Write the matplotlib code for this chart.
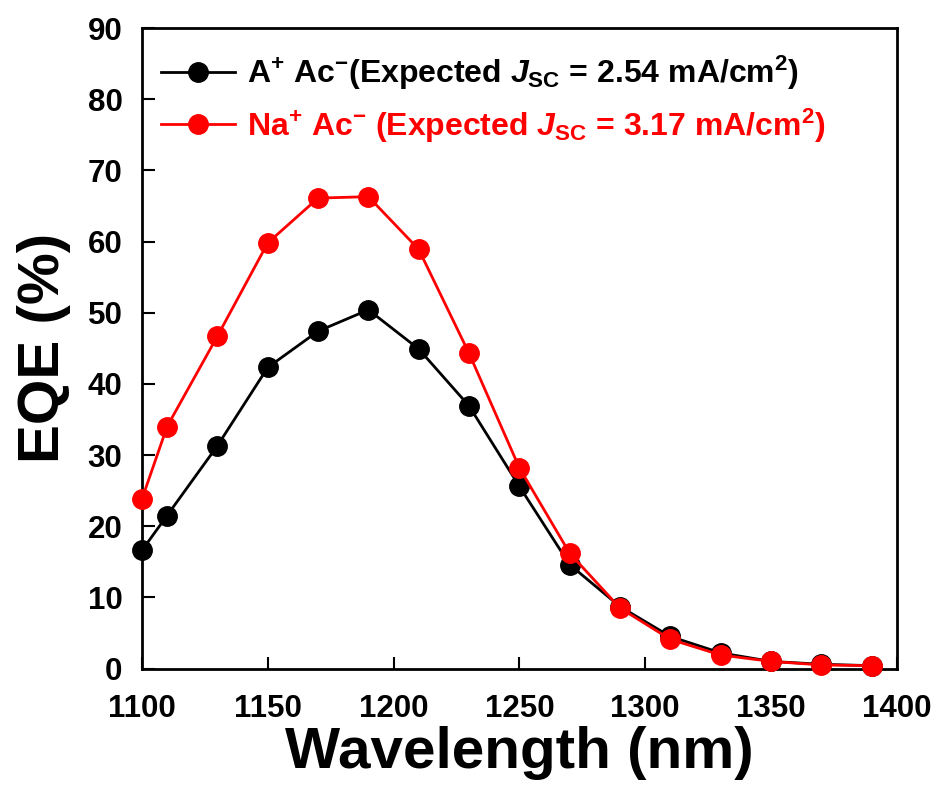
import matplotlib
matplotlib.use("Agg")
import matplotlib.pyplot as plt

plt.rcParams['font.family'] = ['Liberation Sans', 'DejaVu Sans']
plt.rcParams['font.weight'] = 'bold'
plt.rcParams['mathtext.fontset'] = 'custom'
plt.rcParams['mathtext.rm'] = 'Liberation Sans:bold'
plt.rcParams['mathtext.bf'] = 'Liberation Sans:bold'
plt.rcParams['mathtext.it'] = 'Liberation Sans:italic:bold'

wavelength = [1100, 1110, 1130, 1150, 1170, 1190, 1210, 1230, 1250, 1270, 1290, 1310, 1330, 1350, 1370, 1390]
eqe_a = [16.6, 21.5, 31.3, 42.3, 47.4, 50.4, 44.9, 36.9, 25.6, 14.6, 8.7, 4.5, 2.2, 1.0, 0.6, 0.4]
eqe_na = [23.8, 34.0, 46.7, 59.8, 66.1, 66.3, 58.9, 44.3, 28.2, 16.2, 8.5, 4.1, 1.9, 1.0, 0.5, 0.4]

label_a = r"A$^{+}$ Ac$^{\mathrm{-}}$(Expected $J_{\mathrm{SC}}$ = 2.54 mA/cm$^{2}$)"
label_na = r"Na$^{+}$ Ac$^{\mathrm{-}}$ (Expected $J_{\mathrm{SC}}$ = 3.17 mA/cm$^{2}$)"

xticks = [1100, 1150, 1200, 1250, 1300, 1350, 1400]
yticks = [0, 10, 20, 30, 40, 50, 60, 70, 80, 90]

fig = plt.figure(figsize=(9.4, 7.89), dpi=100)
ax = fig.add_axes([0.151, 0.1527, 0.803, 0.8118])

ax.plot(wavelength, eqe_a, color='black', lw=2, marker='o', ms=14, label=label_a,
        clip_on=False, zorder=3)
ax.plot(wavelength, eqe_na, color='#ff0000', lw=2, marker='o', ms=14, label=label_na,
        clip_on=False, zorder=4)

ax.set_xlim(1100, 1400)
ax.set_ylim(0, 90)
ax.set_xticks(xticks)
ax.set_yticks(yticks)
ax.tick_params(direction='in', length=9, width=1.5, labelsize=22.5,
               top=False, right=False)
ax.tick_params(axis='x', pad=18)
ax.tick_params(axis='y', pad=14)
for lab in ax.get_xticklabels() + ax.get_yticklabels():
    lab.set_fontweight('bold')
for s in ax.spines.values():
    s.set_linewidth(2)

ax.set_xlabel('Wavelength (nm)', fontsize=42, fontweight='bold', labelpad=2)
ax.set_ylabel('EQE (%)', fontsize=42, fontweight='bold', labelpad=12)

leg = ax.legend(loc='upper left', frameon=False, fontsize=23, labelcolor='linecolor',
                handlelength=2.3, handletextpad=0.4, borderaxespad=0.2,
                labelspacing=0.45, bbox_to_anchor=(0.0, 0.99))

fig.savefig('out.png', dpi=100)
